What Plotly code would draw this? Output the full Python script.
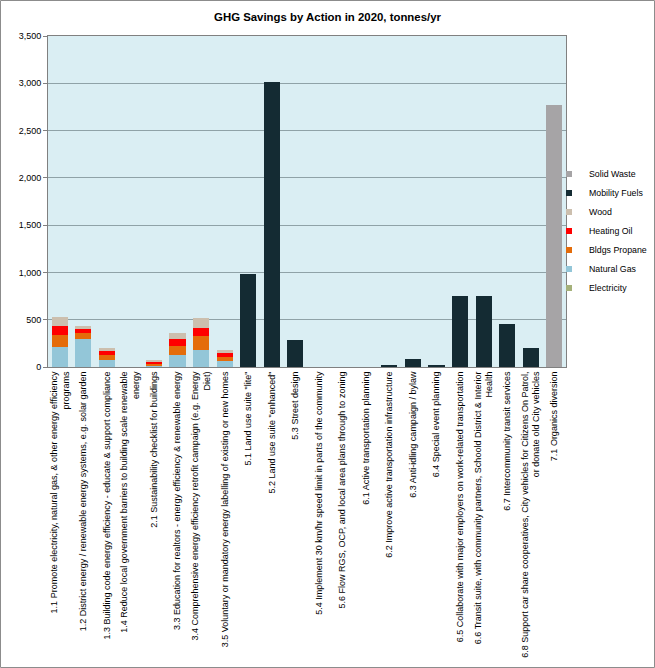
import plotly.graph_objects as go

actions = [
    "1.1 Promote electricity, natural gas, & other energy efficiency<br>programs",
    "1.2 District energy / renewable energy systems, e.g. solar garden",
    "1.3 Building code energy efficiency - educate & support compliance",
    "1.4 Reduce local government barriers to building scale renewable<br>energy",
    "2.1 Sustainability checklist for buildings",
    "3.3 Education for realtors - energy efficiency & renewable energy",
    "3.4 Comprehensive energy efficiency retrofit campaign (e.g. Energy<br>Diet)",
    "3.5 Voluntary or mandatory energy labelling of existing or new homes",
    "5.1 Land use suite \"lite\"",
    "5.2 Land use suite \"enhanced\"",
    "5.3 Street design",
    "5.4 Implement 30 km/hr speed limit in parts of the community",
    "5.6 Flow RGS, OCP, and local area plans through to zoning",
    "6.1 Active transportation planning",
    "6.2 Improve active transportation infrastructure",
    "6.3 Anti-idling campaign / bylaw",
    "6.4 Special event planning",
    "6.5 Collaborate with major employers on work-related transportation",
    "6.6 Transit suite, with community partners, Schoold District & Interior<br>Health",
    "6.7 Intercommunity transit services",
    "6.8 Support car share cooperatives, City vehicles for Citizens On Patrol,<br>or donate old City vehicles",
    "7.1 Organics diversion",
]

electricity    = [0, 0, 0, 0, 0, 0, 0, 0, 0, 0, 0, 0, 0, 0, 0, 0, 0, 0, 0, 0, 0, 0]
natural_gas    = [215, 300, 78, 0, 12, 130, 185, 65, 0, 0, 0, 0, 0, 0, 0, 0, 0, 0, 0, 0, 0, 0]
bldgs_propane  = [125, 55, 46, 0, 25, 95, 140, 45, 0, 0, 0, 0, 0, 0, 0, 0, 0, 0, 0, 0, 0, 0]
heating_oil    = [90, 45, 40, 0, 20, 70, 88, 35, 0, 0, 0, 0, 0, 0, 0, 0, 0, 0, 0, 0, 0, 0]
wood           = [95, 30, 32, 0, 10, 65, 100, 32, 0, 0, 0, 0, 0, 0, 0, 0, 0, 0, 0, 0, 0, 0]
mobility_fuels = [0, 0, 0, 0, 0, 0, 0, 0, 980, 3015, 290, 0, 0, 0, 15, 80, 12, 752, 752, 450, 198, 0]
solid_waste    = [0, 0, 0, 0, 0, 0, 0, 0, 0, 0, 0, 0, 0, 0, 0, 0, 0, 0, 0, 0, 0, 2770]

series = [
    ("Electricity", electricity, "#A5B17A"),
    ("Natural Gas", natural_gas, "#93C6D8"),
    ("Bldgs Propane", bldgs_propane, "#E46C0A"),
    ("Heating Oil", heating_oil, "#FF0000"),
    ("Wood", wood, "#CCBFAE"),
    ("Mobility Fuels", mobility_fuels, "#142B33"),
    ("Solid Waste", solid_waste, "#A6A4A6"),
]

y_ticks = [0, 500, 1000, 1500, 2000, 2500, 3000, 3500]

fig = go.Figure()
for name, vals, col in series:
    fig.add_trace(go.Bar(x=actions, y=vals, name=name, marker_color=col,
                         marker_line_width=0, showlegend=False))
for name, vals, col in series:
    fig.add_trace(go.Scatter(x=[None], y=[None], mode="markers", name=name,
                             marker=dict(symbol="square", size=6, color=col)))

W, H = 655, 668
L, R, T, B = 48, 89, 36, 301
pw, ph = W - L - R, H - T - B

fig.update_layout(
    width=W, height=H,
    margin=dict(l=L, r=R, t=T, b=B, pad=0, autoexpand=False),
    barmode="stack",
    bargap=0.32,
    paper_bgcolor="white",
    plot_bgcolor="#DAEEF3",
    font=dict(family="Liberation Sans, Arial, sans-serif", size=9, color="black"),
    title=dict(text="<b>GHG Savings by Action in 2020, tonnes/yr</b>",
               x=0.5, xanchor="center", y=1 - 17 / H, yanchor="middle",
               font=dict(size=11.4, family="Liberation Sans, Arial, sans-serif")),
    legend=dict(xref="container", yref="container",
                x=549 / W, xanchor="left", y=1 - 231 / H, yanchor="middle",
                traceorder="reversed", bgcolor="rgba(0,0,0,0)",
                font=dict(size=8.8), itemwidth=30),
    shapes=[dict(type="rect", xref="paper", yref="paper",
                 x0=(0.5 - L) / pw, x1=(W - 0.5 - L) / pw,
                 y0=-(H - 0.5 - (T + ph)) / ph, y1=(T + ph - 0.5) / ph,
                 line=dict(color="#8C8C8C", width=1), layer="below")],
)
fig.update_xaxes(type="category", tickangle=-90, showgrid=False, automargin=False,
                 showline=True, linecolor="#808080", mirror=True,
                 ticks="", tickfont=dict(size=9))
fig.update_yaxes(range=[0, 3500], tickvals=y_ticks, tickformat=",", automargin=False,
                 showgrid=True, gridcolor="#8FA2A7", gridwidth=1,
                 showline=True, linecolor="#808080", mirror=True,
                 ticks="outside", ticklen=4, tickcolor="#808080",
                 zeroline=False, tickfont=dict(size=9))

fig.write_html("out.html", config={"displayModeBar": False},
               post_script="document.body.style.margin='0';document.body.style.overflow='hidden';")
